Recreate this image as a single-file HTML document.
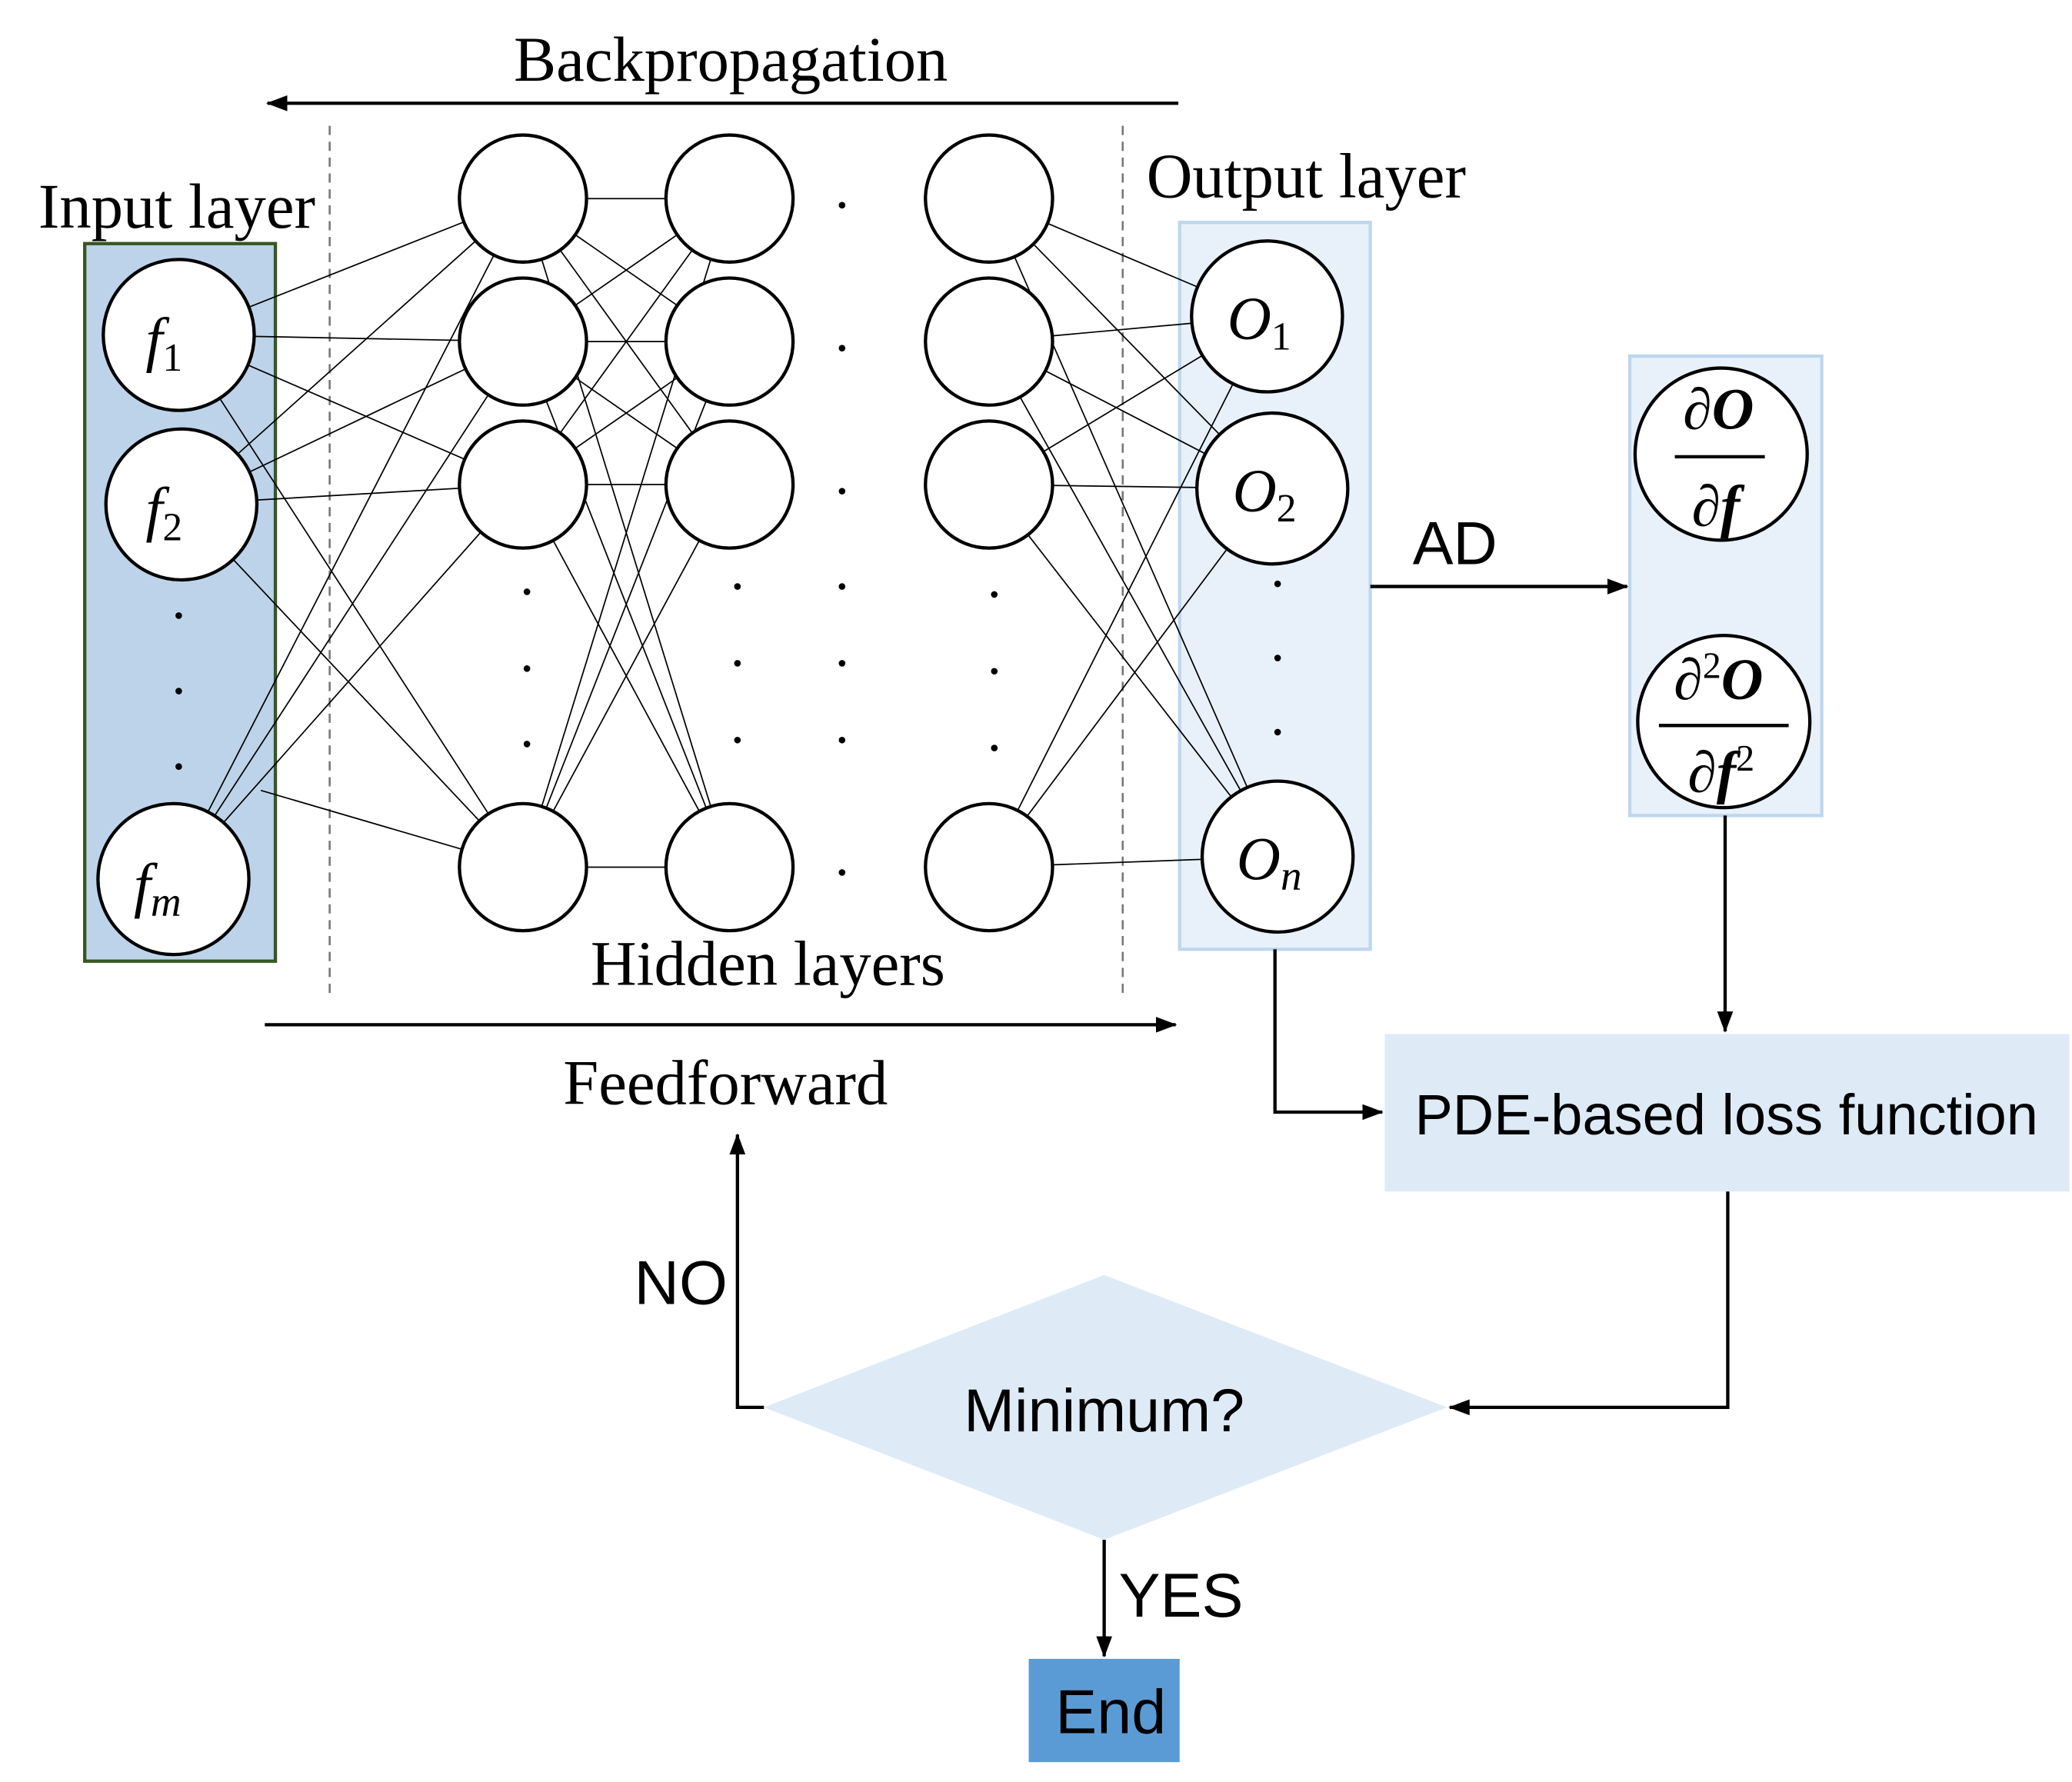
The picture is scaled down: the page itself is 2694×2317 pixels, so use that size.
<!DOCTYPE html>
<html><head><meta charset="utf-8"><style>html,body{margin:0;padding:0;background:#fff}svg{display:block}</style></head><body>
<svg width="2694" height="2317" viewBox="0 0 1565 1346" xmlns="http://www.w3.org/2000/svg">
<defs>
<marker id="b" markerWidth="16" markerHeight="12" refX="15" refY="6" orient="auto" markerUnits="userSpaceOnUse"><path d="M0,0 L16,6 L0,12 z" fill="#000"/></marker></defs>
<g font-family="Liberation Serif, serif" font-size="48" fill="#000">
<text x="552" y="61" text-anchor="middle">Backpropagation</text>
<text x="29" y="172">Input layer</text>
<text x="866" y="149">Output layer</text>
<text x="580" y="744" text-anchor="middle">Hidden layers</text>
<text x="548" y="834" text-anchor="middle">Feedforward</text>
</g>
<line x1="890" y1="78" x2="202" y2="78" stroke="#000" stroke-width="2.5" marker-end="url(#b)"/>
<line x1="200" y1="774" x2="888" y2="774" stroke="#000" stroke-width="2.5" marker-end="url(#b)"/>
<line x1="249" y1="95" x2="249" y2="752" stroke="#777" stroke-width="1.5" stroke-dasharray="7,5"/>
<line x1="848" y1="95" x2="848" y2="752" stroke="#777" stroke-width="1.5" stroke-dasharray="7,5"/>
<rect x="64" y="184" width="144" height="542" fill="#bdd3e9" stroke="#375623" stroke-width="2.5"/>
<rect x="891" y="168" width="144" height="549" fill="#e8f1fa" stroke="#bdd7ee" stroke-width="2.5"/>
<rect x="1231" y="269" width="145" height="347" fill="#e8f1fa" stroke="#bdd7ee" stroke-width="2.5"/>
<g stroke="#000" stroke-width="1">
<path d="M135,253L395,150M135,253L395,258M135,253L395,366M135,253L395,655
M137,381L395,150M137,381L395,258M137,381L395,366M137,381L395,655
M131,664L395,150M131,664L395,258M131,664L395,366M197,597L395,655
M395,150L551,150M395,150L551,258M395,150L551,366M395,150L551,655
M395,258L551,150M395,258L551,258M395,258L551,366M395,258L551,655
M395,366L551,150M395,366L551,258M395,366L551,366M395,366L551,655
M395,655L551,150M395,655L551,258M395,655L551,366M395,655L551,655
M747,150L957,239M747,150L961,369M747,150L965,647
M747,258L957,239M747,258L961,369M747,258L965,647
M747,366L957,239M747,366L961,369M747,366L965,647
M747,655L957,239M747,655L961,369M747,655L965,647"/>
</g>
<g fill="#fff" stroke="#000" stroke-width="2.5">
<circle cx="135" cy="253" r="57"/><circle cx="137" cy="381" r="57"/><circle cx="131" cy="664" r="57"/>
<circle cx="395" cy="150" r="48"/><circle cx="395" cy="258" r="48"/><circle cx="395" cy="366" r="48"/><circle cx="395" cy="655" r="48"/>
<circle cx="551" cy="150" r="48"/><circle cx="551" cy="258" r="48"/><circle cx="551" cy="366" r="48"/><circle cx="551" cy="655" r="48"/>
<circle cx="747" cy="150" r="48"/><circle cx="747" cy="258" r="48"/><circle cx="747" cy="366" r="48"/><circle cx="747" cy="655" r="48"/>
<circle cx="957" cy="239" r="57"/><circle cx="961" cy="369" r="57"/><circle cx="965" cy="647" r="57"/>
<circle cx="1300" cy="343" r="65"/><circle cx="1302" cy="545" r="65"/>
</g>
<g fill="#000">
<circle cx="135" cy="465" r="2.5"/><circle cx="135" cy="522" r="2.5"/><circle cx="135" cy="579" r="2.5"/>
<circle cx="398" cy="447" r="2.5"/><circle cx="398" cy="505" r="2.5"/><circle cx="398" cy="562" r="2.5"/>
<circle cx="557" cy="443" r="2.5"/><circle cx="557" cy="501" r="2.5"/><circle cx="557" cy="559" r="2.5"/>
<circle cx="751" cy="449" r="2.5"/><circle cx="751" cy="507" r="2.5"/><circle cx="751" cy="565" r="2.5"/>
<circle cx="636" cy="155" r="2.5"/><circle cx="636" cy="263" r="2.5"/><circle cx="636" cy="371" r="2.5"/><circle cx="636" cy="443" r="2.5"/><circle cx="636" cy="501" r="2.5"/><circle cx="636" cy="559" r="2.5"/><circle cx="636" cy="659" r="2.5"/>
<circle cx="965" cy="441" r="2.5"/><circle cx="965" cy="497" r="2.5"/><circle cx="965" cy="553" r="2.5"/>
</g>
<g font-family="Liberation Serif, DejaVu Serif, serif" font-style="italic" font-size="46" fill="#000">
<text x="110" y="272">f<tspan font-size="30" font-style="normal" dy="8">1</tspan></text>
<text x="110" y="400">f<tspan font-size="30" font-style="normal" dy="8">2</tspan></text>
<text x="101" y="684">f<tspan font-size="32" dy="8">m</tspan></text>
<text x="927" y="256">O<tspan font-size="30" font-style="normal" dy="8">1</tspan></text>
<text x="931" y="386">O<tspan font-size="30" font-style="normal" dy="8">2</tspan></text>
<text x="934" y="664">O<tspan font-size="32" dy="8">n</tspan></text>
</g>
<g font-family="Liberation Serif, DejaVu Serif, serif" font-size="44" fill="#000" text-anchor="middle">
<text x="1298" y="324">∂<tspan font-weight="bold" font-style="italic">O</tspan></text>
<line x1="1265" y1="345" x2="1333" y2="345" stroke="#000" stroke-width="2.5"/>
<text x="1296" y="397">∂<tspan font-weight="bold" font-style="italic">f</tspan></text>
<text x="1298" y="528">∂<tspan font-size="28" dy="-16">2</tspan><tspan font-weight="bold" font-style="italic" dy="16">O</tspan></text>
<line x1="1253" y1="548" x2="1351" y2="548" stroke="#000" stroke-width="2.5"/>
<text x="1300" y="598">∂<tspan font-weight="bold" font-style="italic">f</tspan><tspan font-size="28" dy="-16">2</tspan></text>
</g>
<line x1="1035" y1="443" x2="1229" y2="443" stroke="#000" stroke-width="2.5" marker-end="url(#b)"/>
<text x="1067" y="426" font-family="Liberation Sans, sans-serif" font-size="46">AD</text>
<line x1="1303" y1="616" x2="1303" y2="779" stroke="#000" stroke-width="2.5" marker-end="url(#b)"/>
<rect x="1046" y="781" width="517" height="119" fill="#deebf7"/>
<text x="1304" y="857" text-anchor="middle" font-family="Liberation Sans, sans-serif" font-size="43">PDE-based loss function</text>
<polyline points="963,717 963,840 1044,840" fill="none" stroke="#000" stroke-width="2.5" marker-end="url(#b)"/>
<polyline points="1305,900 1305,1063 1095,1063" fill="none" stroke="#000" stroke-width="2.5" marker-end="url(#b)"/>
<polygon points="577,1063 834,963 1093,1063 834,1163" fill="#deebf7"/>
<text x="834" y="1081" text-anchor="middle" font-family="Liberation Sans, sans-serif" font-size="46">Minimum?</text>
<polyline points="577,1063 557,1063 557,857" fill="none" stroke="#000" stroke-width="2.5" marker-end="url(#b)"/>
<text x="479" y="985" font-family="Liberation Sans, sans-serif" font-size="47">NO</text>
<line x1="834" y1="1163" x2="834" y2="1251" stroke="#000" stroke-width="2.5" marker-end="url(#b)"/>
<text x="845" y="1221" font-family="Liberation Sans, sans-serif" font-size="47">YES</text>
<rect x="777" y="1253" width="114" height="78" fill="#5b9bd5"/>
<text x="839" y="1309" text-anchor="middle" font-family="Liberation Sans, sans-serif" font-size="47">End</text>
</svg>
</body></html>
